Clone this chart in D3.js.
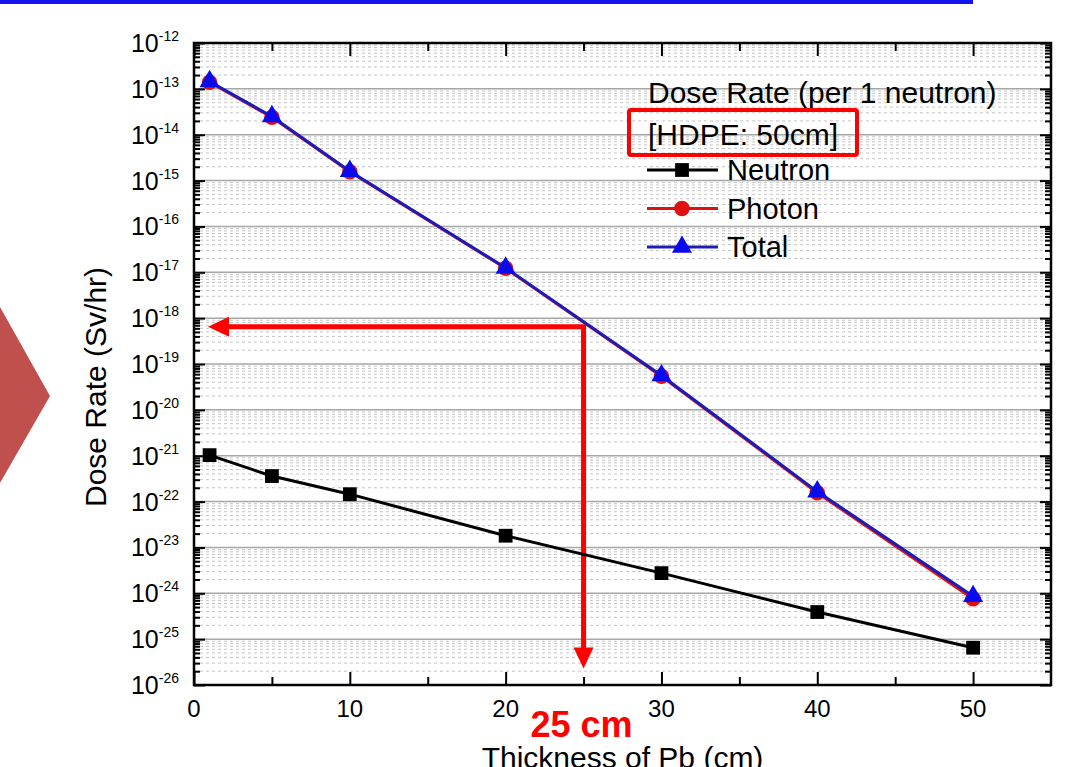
<!DOCTYPE html>
<html lang="en">
<head>
    <meta charset="UTF-8">
    <title>Dose Rate vs Thickness of Pb</title>
    <script src="https://d3js.org/d3.v7.min.js"></script>
    <style>
        body { margin: 0; background: #fff; }
        text { font-family: "Liberation Sans", Arial, sans-serif; }
    </style>
</head>
<body>
<svg id="main" width="1069" height="767"></svg>
<script>
    // data
    const thickness = [1, 5, 10, 20, 30, 40, 50];
    const neutron = [1.03e-21, 3.6e-22, 1.45e-22, 1.8e-23, 2.75e-24, 3.9e-25, 6.5e-26];
    const photon = [1.4e-13, 2.4e-14, 1.55e-15, 1.22e-17, 5.4e-20, 1.55e-22, 7.6e-25];
    const total = [1.45e-13, 2.5e-14, 1.6e-15, 1.25e-17, 5.6e-20, 1.65e-22, 8.6e-25];
    const xTicks = [0, 10, 20, 30, 40, 50];
    const xMinorTicks = [5, 15, 25, 35, 45];
    const yExponents = d3.range(-26, -11);   // -26 .. -12

    // red guide arrows
    const cutThickness = 25;
    const cutDose = 6.5e-19;
    const arrowTipThickness = 0.9;
    const arrowTipDose = 2.3e-26;

    const legendTitle = ["Dose Rate (per 1 neutron)", "[HDPE: 50cm]"];
    const seriesNames = ["Neutron", "Photon", "Total"];

    let svg = d3.select('svg#main');

    const plotL = 194, plotR = 1051, plotT = 43, plotB = 685;
    let xScale = d3.scaleLinear().domain([0, 55]).range([plotL, plotR]);
    let yScale = d3.scaleLog().domain([1e-26, 1e-12]).range([plotB, plotT]);

    // decorations from the slide
    svg.append('rect').attr('x', 0).attr('y', 0).attr('width', 973).attr('height', 4).attr('fill', '#1414f0');
    svg.append('polygon').attr('points', '0,307 50,396 0,483').attr('fill', '#c0504d');

    // minor grid (dashed) and decade grid (solid)
    let minorVals = [];
    yExponents.slice(0, -1).forEach(e => {
        for (let k = 2; k <= 9; k++) minorVals.push(k * Math.pow(10, e));
    });
    svg.append('g').selectAll('line')
        .data(minorVals)
        .enter()
        .append('line')
        .attr('x1', plotL).attr('x2', plotR)
        .attr('y1', d => yScale(d)).attr('y2', d => yScale(d))
        .attr('stroke', '#c4c4c4')
        .attr('stroke-width', 1)
        .attr('stroke-dasharray', '3,3');
    svg.append('g').selectAll('line')
        .data(yExponents.slice(1, -1))
        .enter()
        .append('line')
        .attr('x1', plotL).attr('x2', plotR)
        .attr('y1', d => yScale(Math.pow(10, d))).attr('y2', d => yScale(Math.pow(10, d)))
        .attr('stroke', '#a6a6a6')
        .attr('stroke-width', 1.5);

    // axes, ticks inward
    const decades = yExponents.map(e => Math.pow(10, e));
    function drawAxis(axis, tf) {
        let g = svg.append('g').attr('transform', tf).call(axis);
        g.select('.domain').remove();
        g.selectAll('.tick line').attr('stroke', '#000').attr('stroke-width', 2);
        g.selectAll('.tick text').remove();
    }
    drawAxis(d3.axisBottom(xScale).tickValues(xTicks).tickSize(-13), `translate(0,${plotB})`);
    drawAxis(d3.axisBottom(xScale).tickValues(xMinorTicks).tickSize(-8), `translate(0,${plotB})`);
    drawAxis(d3.axisTop(xScale).tickValues(xTicks).tickSize(-13), `translate(0,${plotT})`);
    drawAxis(d3.axisTop(xScale).tickValues(xMinorTicks).tickSize(-8), `translate(0,${plotT})`);
    drawAxis(d3.axisLeft(yScale).tickValues(decades).tickSize(-11), `translate(${plotL},0)`);
    drawAxis(d3.axisLeft(yScale).tickValues(minorVals).tickSize(-6), `translate(${plotL},0)`);
    drawAxis(d3.axisRight(yScale).tickValues(decades).tickSize(-11), `translate(${plotR},0)`);
    drawAxis(d3.axisRight(yScale).tickValues(minorVals).tickSize(-6), `translate(${plotR},0)`);

    svg.append('rect')
        .attr('x', plotL).attr('y', plotT)
        .attr('width', plotR - plotL).attr('height', plotB - plotT)
        .attr('fill', 'none').attr('stroke', '#000').attr('stroke-width', 2.5);

    // tick labels
    svg.append('g').selectAll('text')
        .data(xTicks)
        .enter()
        .append('text')
        .attr('x', d => xScale(d)).attr('y', 717)
        .attr('text-anchor', 'middle')
        .attr('font-size', 24)
        .text(d => d);

    let yLabels = svg.append('g').selectAll('text')
        .data(yExponents)
        .enter()
        .append('text')
        .attr('x', 179).attr('y', d => yScale(Math.pow(10, d)) + 9)
        .attr('text-anchor', 'end')
        .attr('font-size', 25);
    yLabels.append('tspan').text('10');
    yLabels.append('tspan').attr('dy', -11).attr('font-size', 14).text(d => d);

    // axis titles
    svg.append('text')
        .attr('x', (plotL + plotR) / 2).attr('y', 768)
        .attr('text-anchor', 'middle').attr('font-size', 30)
        .text('Thickness of Pb (cm)');
    svg.append('text')
        .attr('transform', 'translate(106,387) rotate(-90)')
        .attr('text-anchor', 'middle').attr('font-size', 30)
        .text('Dose Rate (Sv/hr)');

    // guide arrows
    const cx = xScale(cutThickness), cy = yScale(cutDose);
    const hx = xScale(arrowTipThickness), vy = yScale(arrowTipDose);
    svg.append('path')
        .attr('d', `M${hx + 18},${cy}H${cx}V${vy - 18}`)
        .attr('fill', 'none').attr('stroke', '#ff0000').attr('stroke-width', 5)
        .attr('stroke-linejoin', 'miter');
    svg.append('path')
        .attr('d', `M${hx},${cy}L${hx + 21},${cy - 10}L${hx + 21},${cy + 10}Z`)
        .attr('fill', '#ff0000');
    svg.append('path')
        .attr('d', `M${cx},${vy}L${cx - 10},${vy - 21}L${cx + 10},${vy - 21}Z`)
        .attr('fill', '#ff0000');
    svg.append('text')
        .attr('x', cx - 2).attr('y', 737)
        .attr('text-anchor', 'middle').attr('font-size', 36).attr('font-weight', 'bold')
        .attr('fill', '#ff0000')
        .text(cutThickness + ' cm');

    // series
    const series = [
        {name: seriesNames[0], values: neutron, line: '#000', fill: '#000', sym: d3.symbolSquare, size: 190},
        {name: seriesNames[1], values: photon, line: '#e01010', fill: '#e01010', sym: d3.symbolCircle, size: 190},
        {name: seriesNames[2], values: total, line: '#1c1cb8', fill: '#0a0aee', sym: d3.symbolTriangle, size: 175}
    ];
    let line = d3.line()
        .x((d, i) => xScale(thickness[i]))
        .y(d => yScale(d));

    series.forEach(s => {
        let g = svg.append('g');
        g.append('path')
            .attr('d', line(s.values))
            .attr('fill', 'none').attr('stroke', s.line).attr('stroke-width', 3);
        g.selectAll('path.pt')
            .data(s.values)
            .enter()
            .append('path')
            .attr('class', 'pt')
            .attr('transform', (d, i) => `translate(${xScale(thickness[i])},${yScale(d)})`)
            .attr('d', d3.symbol().type(s.sym).size(s.size))
            .attr('fill', s.fill);
    });

    // legend
    svg.append('text').attr('x', 648).attr('y', 103).attr('font-size', 30).text(legendTitle[0]);
    svg.append('text').attr('x', 648).attr('y', 145).attr('font-size', 30).text(legendTitle[1]);
    svg.append('rect')
        .attr('x', 629).attr('y', 110).attr('width', 228).attr('height', 45)
        .attr('rx', 2)
        .attr('fill', 'none').attr('stroke', '#ff0000').attr('stroke-width', 4);

    let legendRows = svg.append('g').selectAll('g')
        .data(series)
        .enter()
        .append('g')
        .attr('transform', (d, i) => `translate(0,${170 + i * 38.5})`);
    legendRows.append('line')
        .attr('x1', 647).attr('x2', 718)
        .attr('stroke', d => d.line).attr('stroke-width', 3);
    legendRows.append('path')
        .attr('transform', 'translate(682,0)')
        .attr('d', d => d3.symbol().type(d.sym).size(d.size)())
        .attr('fill', d => d.fill);
    legendRows.append('text')
        .attr('x', 727).attr('y', 10)
        .attr('font-size', 29)
        .text(d => d.name);
</script>
</body>
</html>
